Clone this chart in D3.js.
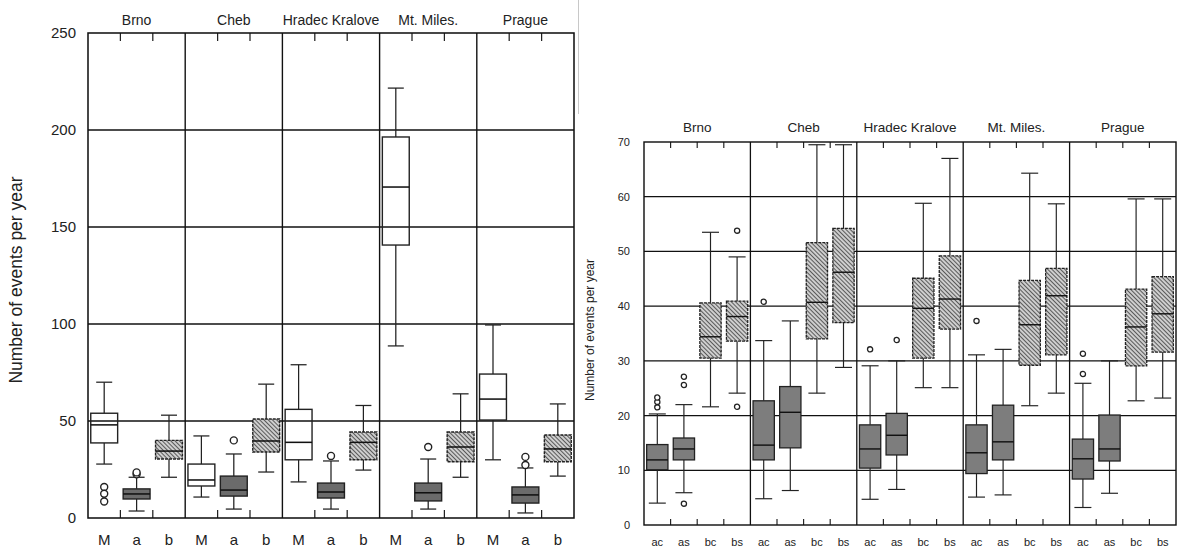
<!DOCTYPE html>
<html>
<head>
<meta charset="utf-8">
<script src="https://cdn.jsdelivr.net/npm/d3@7"></script>
<style>
  body { margin: 0; background: #fff; }
  text { font-family: "Liberation Sans", Arial, sans-serif; fill: #222; }
</style>
</head>
<body>
<svg id="chart" width="1177" height="554"></svg>
<script>
// facets, shared by both panels
var sites = ['Brno', 'Cheb', 'Hradec Kralove', 'Mt. Miles.', 'Prague'];

// left panel, each box is [lower whisker, q1, median, q3, upper whisker], one per site
var leftGroups = ['M', 'a', 'b'];
var leftTicks = [0, 50, 100, 150, 200, 250];
var leftM = [[27.8, 38.7, 48, 54, 70], [10.8, 16.5, 19.6, 27.8, 42.3], [18.6, 30, 39, 56, 79], [88.7, 140.7, 170.6, 196.4, 221.6], [30, 50.5, 61.3, 74.2, 99.5]];
var leftA = [[3.6, 9.8, 12.4, 15, 21], [4.6, 11.3, 14.4, 21.6, 33], [4.6, 10.3, 13.4, 18, 29.4], [4.6, 8.8, 13, 18, 30.4], [2.6, 7.7, 11.9, 16, 25.8]];
var leftB = [[21, 30.4, 34.5, 40, 53], [23.7, 34, 39.7, 51, 69], [24.7, 30, 39, 44.3, 58], [21, 29, 36.6, 44.3, 64], [21.6, 29, 35.6, 42.8, 58.8]];
var leftMOut = [[16, 12.5, 8.5], [], [], [], []];
var leftAOut = [[22.5, 23.5], [40], [32], [36.6], [27.3, 31.5]];
var leftBOut = [[], [], [], [], []];

// right panel
var rightGroups = ['ac', 'as', 'bc', 'bs'];
var rightTicks = [0, 10, 20, 30, 40, 50, 60, 70];
var rightAC = [[4.0, 10.1, 11.9, 14.7, 20.3], [4.8, 11.9, 14.6, 22.7, 33.7], [4.7, 10.4, 13.9, 18.3, 29.1], [5.1, 9.4, 13.2, 18.3, 31.1], [3.2, 8.4, 12.1, 15.7, 25.9]];
var rightAS = [[5.9, 11.9, 13.9, 15.9, 22], [6.3, 14.1, 20.6, 25.3, 37.3], [6.5, 12.8, 16.4, 20.4, 30], [5.5, 11.9, 15.2, 21.9, 32.1], [5.8, 11.7, 13.9, 20.1, 30]];
var rightBC = [[21.6, 30.5, 34.4, 40.6, 53.5], [24.1, 34, 40.7, 51.6, 69.5], [25.1, 30.5, 39.6, 45.1, 58.8], [21.8, 29.2, 36.6, 44.7, 64.3], [22.7, 29.1, 36.2, 43.1, 59.6]];
var rightBS = [[24.1, 33.6, 38.1, 40.9, 49], [28.8, 37, 46.2, 54.2, 69.5], [25.1, 35.8, 41.3, 49.2, 67], [24.1, 31.1, 41.9, 46.9, 58.7], [23.2, 31.6, 38.6, 45.4, 59.6]];
var rightACOut = [[21.5, 22.5, 23.3], [40.8], [32.1], [37.3], [27.6, 31.3]];
var rightASOut = [[3.9, 25.6, 27.1], [], [33.8], [], []];
var rightBCOut = [[], [], [], [], []];
var rightBSOut = [[21.6, 53.8], [], [], [], []];

var yTitle = 'Number of events per year';

var svg = d3.select('#chart');

// diagonal hatching for the b boxes
var hatch = svg.append('defs').append('pattern')
  .attr('id', 'hatch')
  .attr('patternUnits', 'userSpaceOnUse')
  .attr('width', 3).attr('height', 3)
  .attr('patternTransform', 'rotate(-45)');
hatch.append('rect').attr('width', 3).attr('height', 3).attr('fill', '#d4d4d4');
hatch.append('line').attr('x1', 1.5).attr('x2', 1.5).attr('y1', 0).attr('y2', 3)
  .attr('stroke', '#5a5a5a').attr('stroke-width', 1.1);

// faint edge left over from the source figure
svg.append('line').attr('x1', 578.5).attr('x2', 578.5).attr('y1', 0).attr('y2', 114)
  .attr('stroke', '#c8c8c8').attr('stroke-width', 1);

function drawPanel(p) {
  var g = svg.append('g');
  var y = d3.scaleLinear().domain([0, p.max]).range([p.bottom, p.top]);
  var fx = d3.scaleBand().domain(sites).range([p.left, p.right]);
  var x = d3.scaleBand().domain(p.groups).range([0, fx.bandwidth()]);
  var bw = x.bandwidth() * p.boxFrac;

  // horizontal grid
  g.append('g').selectAll('line')
    .data(p.ticks.slice(1, -1))
    .join('line')
      .attr('x1', p.left).attr('x2', p.right)
      .attr('y1', y).attr('y2', y)
      .attr('stroke', '#111').attr('stroke-width', p.lw);

  // facet dividers
  g.append('g').selectAll('line')
    .data(sites.slice(1))
    .join('line')
      .attr('x1', fx).attr('x2', fx)
      .attr('y1', p.top).attr('y2', p.bottom)
      .attr('stroke', '#111').attr('stroke-width', p.lw);

  p.series.forEach(function(s, gi) {
    var grp = p.groups[gi];
    var rows = sites.map(function(site, i) {
      return { site: site, d: s.stats[i], out: s.out[i] };
    });

    var boxes = g.append('g').selectAll('g')
      .data(rows)
      .join('g')
        .attr('transform', function(r) {
          return 'translate(' + (fx(r.site) + x(grp) + x.bandwidth() / 2) + ',0)';
        });

    // whiskers
    boxes.append('line')
      .attr('y1', function(r) { return y(r.d[0]); })
      .attr('y2', function(r) { return y(r.d[1]); });
    boxes.append('line')
      .attr('y1', function(r) { return y(r.d[3]); })
      .attr('y2', function(r) { return y(r.d[4]); });
    boxes.append('line')
      .attr('x1', -p.cap / 2).attr('x2', p.cap / 2)
      .attr('y1', function(r) { return y(r.d[0]); })
      .attr('y2', function(r) { return y(r.d[0]); });
    boxes.append('line')
      .attr('x1', -p.cap / 2).attr('x2', p.cap / 2)
      .attr('y1', function(r) { return y(r.d[4]); })
      .attr('y2', function(r) { return y(r.d[4]); });
    boxes.selectAll('line')
      .attr('stroke', '#222').attr('stroke-width', p.lw * 0.9);

    boxes.append('rect')
      .attr('x', -bw / 2).attr('width', bw)
      .attr('y', function(r) { return y(r.d[3]); })
      .attr('height', function(r) { return y(r.d[1]) - y(r.d[3]); })
      .attr('fill', s.fill)
      .attr('stroke', '#222')
      .attr('stroke-width', p.lw)
      .attr('stroke-dasharray', s.fill === 'url(#hatch)' ? '3,1' : null);

    boxes.append('line')
      .attr('x1', -bw / 2).attr('x2', bw / 2)
      .attr('y1', function(r) { return y(r.d[2]); })
      .attr('y2', function(r) { return y(r.d[2]); })
      .attr('stroke', '#111').attr('stroke-width', p.lw * 1.1);

    boxes.selectAll('circle')
      .data(function(r) { return r.out; })
      .join('circle')
        .attr('cy', y)
        .attr('r', p.r)
        .attr('fill', '#fff')
        .attr('stroke', '#222')
        .attr('stroke-width', p.lw);
  });

  // inner ticks at the group boundaries, top and bottom
  var tickX = [];
  sites.forEach(function(site) {
    p.groups.slice(1).forEach(function(grp) { tickX.push(fx(site) + x(grp)); });
  });
  g.append('g').selectAll('line').data(tickX).join('line')
    .attr('x1', function(d) { return d; }).attr('x2', function(d) { return d; })
    .attr('y1', p.top).attr('y2', p.top + p.tick)
    .attr('stroke', '#222').attr('stroke-width', p.lw * 0.9);
  g.append('g').selectAll('line').data(tickX).join('line')
    .attr('x1', function(d) { return d; }).attr('x2', function(d) { return d; })
    .attr('y1', p.bottom).attr('y2', p.bottom - p.tick)
    .attr('stroke', '#222').attr('stroke-width', p.lw * 0.9);

  // frame
  g.append('rect')
    .attr('x', p.left).attr('y', p.top)
    .attr('width', p.right - p.left).attr('height', p.bottom - p.top)
    .attr('fill', 'none').attr('stroke', '#111').attr('stroke-width', p.lw * 1.1);

  // y axis labels
  var yAxis = g.append('g')
    .attr('transform', 'translate(' + p.left + ',0)')
    .call(d3.axisLeft(y).tickValues(p.ticks).tickSize(0).tickPadding(p.pad));
  yAxis.select('.domain').remove();
  yAxis.selectAll('text')
    .style('font-family', '"Liberation Sans", Arial, sans-serif')
    .style('font-size', p.tickFont + 'px')
    .attr('fill', '#333');

  // facet titles
  g.append('g').selectAll('text').data(sites).join('text')
    .attr('x', function(d) { return fx(d) + fx.bandwidth() / 2; })
    .attr('y', p.top - p.titleGap)
    .attr('text-anchor', 'middle')
    .style('font-size', p.titleFont + 'px')
    .text(function(d) { return d; });

  // group labels under each facet
  var cats = [];
  sites.forEach(function(site) {
    p.groups.forEach(function(grp) { cats.push({ site: site, grp: grp }); });
  });
  g.append('g').selectAll('text').data(cats).join('text')
    .attr('x', function(d) { return fx(d.site) + x(d.grp) + x.bandwidth() / 2; })
    .attr('y', p.bottom + p.catGap)
    .attr('text-anchor', 'middle')
    .style('font-size', p.catFont + 'px')
    .text(function(d) { return d.grp; });

  g.append('text')
    .attr('transform', 'translate(' + p.titleX + ',' + p.titleY + ') rotate(-90)')
    .attr('text-anchor', 'middle')
    .style('font-size', p.yTitleFont + 'px')
    .text(yTitle);
}

drawPanel({
  left: 88, right: 574, top: 33, bottom: 518, max: 250,
  ticks: leftTicks, groups: leftGroups,
  series: [
    { stats: leftM, out: leftMOut, fill: 'none' },
    { stats: leftA, out: leftAOut, fill: '#6b6b6b' },
    { stats: leftB, out: leftBOut, fill: 'url(#hatch)' }
  ],
  boxFrac: 0.83, cap: 16, r: 3.5, lw: 1.4, tick: 8,
  pad: 12, tickFont: 15, titleFont: 14, titleGap: 8,
  catFont: 15, catGap: 27, titleX: 22, titleY: 280, yTitleFont: 17.5
});

drawPanel({
  left: 644, right: 1176, top: 142, bottom: 525, max: 70,
  ticks: rightTicks, groups: rightGroups,
  series: [
    { stats: rightAC, out: rightACOut, fill: '#7d7d7d' },
    { stats: rightAS, out: rightASOut, fill: '#7d7d7d' },
    { stats: rightBC, out: rightBCOut, fill: 'url(#hatch)' },
    { stats: rightBS, out: rightBSOut, fill: 'url(#hatch)' }
  ],
  boxFrac: 0.8, cap: 17, r: 2.6, lw: 1.3, tick: 6,
  pad: 14, tickFont: 11, titleFont: 13.5, titleGap: 10,
  catFont: 11, catGap: 21, titleX: 594, titleY: 330, yTitleFont: 12
});
</script>
</body>
</html>
